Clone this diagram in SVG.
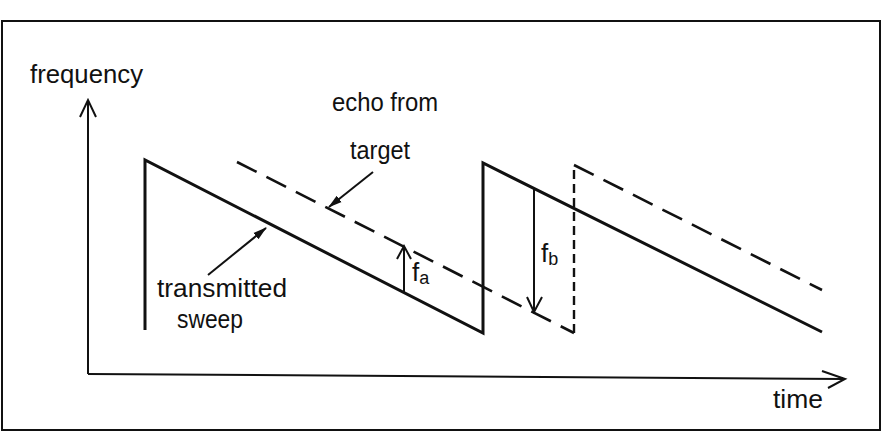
<svg xmlns="http://www.w3.org/2000/svg" width="883" height="436" viewBox="0 0 883 436">
<style>
.t{font-family:"Liberation Sans","DejaVu Sans",sans-serif;font-size:26px;fill:#111}
.s{font-family:"Liberation Sans","DejaVu Sans",sans-serif;font-size:18px;fill:#111}
.ax{stroke:#111;stroke-width:2;fill:none}
.saw{stroke:#111;stroke-width:3;fill:none;stroke-linejoin:miter}
.echo{stroke:#111;stroke-width:2.6;fill:none;stroke-dasharray:22 11}
.vd{stroke:#111;stroke-width:2.4;fill:none;stroke-dasharray:9 5}
.ar{stroke:#111;stroke-width:2;fill:none}
</style>
<defs>
<marker id="fill" viewBox="0 0 14 10" refX="13" refY="5" markerWidth="7" markerHeight="5" orient="auto" markerUnits="strokeWidth">
<path d="M0,1 L14,5 L0,9 Z" fill="#111"/>
</marker>
</defs>
<rect width="883" height="436" fill="#fff"/>
<g id="frame"><rect x="2" y="21" width="878" height="409" fill="none" stroke="#111" stroke-width="2"/></g>
<g id="axes">
<path class="ax" d="M88,374 L88,100 M80,117 L88,100 L96,117"/>
<path class="ax" d="M88,374 L845,379 M822,371 L845,379 L828,388"/>
</g>
<g id="transmitted">
<path class="saw" d="M145,330 L145,160 L483,333 L483,163 L822,332"/>
</g>
<g id="echo">
<path class="echo" d="M237,162 L574,333"/>
<path class="vd" d="M574,333 L574,165"/>
<path class="echo" d="M574,165 L822,290"/>
</g>
<g id="connectors">
<path class="ar" d="M404,293 L404,246 M397,259 L404,246 L411,259"/>
<path class="ar" d="M534,189 L534,312 M527,297 L534,312 L542,297"/>
<path class="ar" d="M373,172 L329,207" marker-end="url(#fill)"/>
<path class="ar" d="M208,275 L266,228" marker-end="url(#fill)"/>
</g>
<g id="labels">
<text class="t" x="30" y="83" textLength="113" lengthAdjust="spacingAndGlyphs">frequency</text>
<text class="t" x="332" y="111" textLength="106" lengthAdjust="spacingAndGlyphs">echo from</text>
<text class="t" x="350" y="159" textLength="60" lengthAdjust="spacingAndGlyphs">target</text>
<text class="t" x="157" y="297" textLength="130" lengthAdjust="spacingAndGlyphs">transmitted</text>
<text class="t" x="177" y="328" textLength="66" lengthAdjust="spacingAndGlyphs">sweep</text>
<text class="t" x="773" y="408" textLength="50" lengthAdjust="spacingAndGlyphs">time</text>
<text class="t" x="412" y="281">f<tspan class="s" dy="3">a</tspan></text>
<text class="t" x="541" y="262">f<tspan class="s" dy="3">b</tspan></text>
</g>
</svg>
